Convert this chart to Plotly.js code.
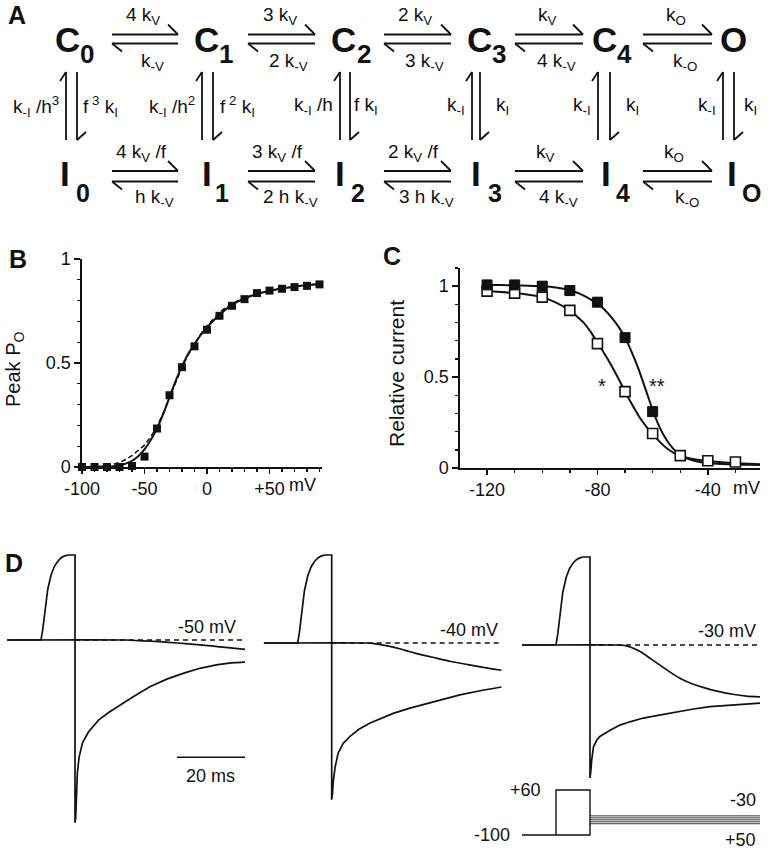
<!DOCTYPE html>
<html>
<head>
<meta charset="utf-8">
<script src="https://cdn.plot.ly/plotly-3.0.1.min.js"></script>
<style>
  html, body { margin: 0; padding: 0; background: #fff; }
  #fig { width: 773px; height: 853px; }
</style>
</head>
<body>
<div id="fig"></div>
<script>
// ---------- panel A: kinetic scheme ----------
var stateTop = ['C', 'C', 'C', 'C', 'C', 'O'];
var stateTopSub = ['0', '1', '2', '3', '4', ''];
var stateBot = ['I', 'I', 'I', 'I', 'I', 'I'];
var stateBotSub = ['0', '1', '2', '3', '4', 'O'];
var rateTopFwd = ['4 k<sub>V</sub>', '3 k<sub>V</sub>', '2 k<sub>V</sub>', 'k<sub>V</sub>', 'k<sub>O</sub>'];
var rateTopBack = ['k<sub>-V</sub>', '2 k<sub>-V</sub>', '3 k<sub>-V</sub>', '4 k<sub>-V</sub>', 'k<sub>-O</sub>'];
var rateBotFwd = ['4 k<sub>V</sub> /f', '3 k<sub>V</sub> /f', '2 k<sub>V</sub> /f', 'k<sub>V</sub>', 'k<sub>O</sub>'];
var rateBotBack = ['h k<sub>-V</sub>', '2 h k<sub>-V</sub>', '3 h k<sub>-V</sub>', '4 k<sub>-V</sub>', 'k<sub>-O</sub>'];
var rateRecover = ['k<sub>-I</sub> /h<sup>3</sup>', 'k<sub>-I</sub> /h<sup>2</sup>', 'k<sub>-I</sub> /h', 'k<sub>-I</sub>', 'k<sub>-I</sub>', 'k<sub>-I</sub>'];
var rateInact = ['f<sup> 3</sup> k<sub>I</sub>', 'f<sup> 2</sup> k<sub>I</sub>', 'f k<sub>I</sub>', 'k<sub>I</sub>', 'k<sub>I</sub>', 'k<sub>I</sub>'];

// ---------- panel B: peak Po vs voltage ----------
var bPtsV = [-100, -90, -80, -70, -60, -50, -40, -30, -20, -10, 0, 10, 20, 30, 40, 50, 60, 70, 80, 90];
var bPtsPo = [0, 0, 0, 0, 0.005, 0.05, 0.185, 0.345, 0.48, 0.58, 0.66, 0.727, 0.775, 0.807, 0.836, 0.848, 0.857, 0.865, 0.871, 0.878];
var bFitV = [-100, -95, -90, -85, -80, -75, -70, -65, -60, -55, -50, -45, -40, -35, -30, -25, -20, -15, -10, -5,
  0, 5, 10, 15, 20, 25, 30, 35, 40, 45, 50, 55, 60, 65, 70, 75, 80, 85, 90];
var bFitSolid = [0, 0, 0, 0.001, 0.002, 0.004, 0.008, 0.016, 0.03, 0.052, 0.085, 0.13, 0.185, 0.255, 0.335, 0.415, 0.485, 0.545, 0.59, 0.635,
  0.67, 0.703, 0.732, 0.758, 0.779, 0.796, 0.81, 0.822, 0.832, 0.84, 0.847, 0.853, 0.858, 0.863, 0.867, 0.871, 0.874, 0.877, 0.879];
var bFitDashed = [0, 0, 0.001, 0.003, 0.006, 0.012, 0.022, 0.036, 0.055, 0.078, 0.105, 0.145, 0.195, 0.26, 0.335, 0.41, 0.48, 0.54, 0.592, 0.64,
  0.678, 0.713, 0.743, 0.767, 0.786, 0.801, 0.813, 0.823, 0.832, 0.84, 0.847, 0.853, 0.858, 0.863, 0.867, 0.871, 0.874, 0.877, 0.879];

// ---------- panel C: steady-state inactivation ----------
var cPtsV = [-120, -110, -100, -90, -80, -70, -60, -50, -40, -30];
var cFilled = [1.007, 1.007, 1.0, 0.976, 0.912, 0.717, 0.31];
var cOpen = [0.973, 0.962, 0.94, 0.867, 0.684, 0.42, 0.19, 0.068, 0.04, 0.033];
var cFitV = [-120, -115, -110, -105, -100, -95, -90, -87.5, -85, -82.5, -80, -77.5, -75, -72.5, -70, -67.5, -65, -62.5, -60,
  -57.5, -55, -52.5, -50, -47.5, -45, -42.5, -40, -35, -30, -25, -21];
var cFitFilled = [1.007, 1.006, 1.005, 1.003, 1.0, 0.993, 0.978, 0.965, 0.948, 0.928, 0.905, 0.872, 0.83, 0.78, 0.717, 0.635, 0.54, 0.43, 0.32,
  0.225, 0.155, 0.105, 0.073, 0.052, 0.04, 0.032, 0.027, 0.022, 0.019, 0.018, 0.017];
var cFitOpen = [0.973, 0.968, 0.962, 0.953, 0.94, 0.91, 0.867, 0.835, 0.8, 0.75, 0.69, 0.63, 0.565, 0.495, 0.42, 0.35, 0.285, 0.232, 0.186,
  0.145, 0.11, 0.085, 0.068, 0.056, 0.048, 0.042, 0.038, 0.031, 0.027, 0.023, 0.021];

// ---------- panel D: simulated currents (ms, relative units) ----------
var riseT = [-10, 0, 0.5, 1, 1.5, 2, 3, 4, 5, 6, 7, 8, 10];
var riseI = [0, 0, 0.12, 0.3, 0.47, 0.6, 0.77, 0.87, 0.93, 0.97, 0.99, 1, 1];

var tail50T = [10, 10.2, 10.4, 10.7, 11.2, 12.2, 14, 17, 20, 23, 27, 32, 37, 42, 47, 52, 56, 60];
var tail50I = [-2.15, -2.1, -1.88, -1.56, -1.38, -1.21, -1.08, -0.94, -0.85, -0.77, -0.67, -0.55, -0.46, -0.39, -0.33, -0.29, -0.27, -0.26];
var step50T = [-10, 25, 30, 35, 40, 45, 50, 55, 60];
var step50I = [0, 0, -0.01, -0.02, -0.035, -0.052, -0.07, -0.09, -0.11];

var tail40T = [10, 10.2, 10.5, 11, 11.9, 13.4, 15.4, 18, 21.3, 25, 28.1, 33, 37.9, 43, 47.7, 54, 60];
var tail40I = [-1.78, -1.72, -1.56, -1.41, -1.25, -1.14, -1.06, -0.98, -0.91, -0.85, -0.8, -0.74, -0.69, -0.64, -0.59, -0.54, -0.5];
var step40T = [-10, 20, 23, 26, 30, 33, 35, 40, 45, 50, 55, 60];
var step40I = [0, 0, -0.01, -0.03, -0.065, -0.1, -0.12, -0.165, -0.21, -0.245, -0.28, -0.31];

var tail30T = [10, 10.2, 10.5, 11, 12, 12.9, 15.9, 18.8, 22, 25.7, 30, 35.5, 40, 45.3, 52, 60];
var tail30I = [-1.51, -1.45, -1.31, -1.16, -1.08, -1.04, -0.97, -0.91, -0.87, -0.83, -0.8, -0.76, -0.73, -0.7, -0.68, -0.66];
var step30T = [-10, 18, 20, 22, 25, 28, 31, 34, 37, 40, 44, 48, 52, 56, 60];
var step30I = [0, 0, -0.005, -0.025, -0.08, -0.16, -0.24, -0.32, -0.39, -0.44, -0.49, -0.53, -0.56, -0.58, -0.59];

var testLabels = ['-50 mV', '-40 mV', '-30 mV'];
var scaleBarT = [40, 60];
var scaleBarI = -1.38;

// voltage protocol (drawn levels, mV)
var protoT = [-10, 10, 10, 0, 0];
var protoV = [-100, -100, 60, 60, -100];
var testLevels = [-32, -39, -46, -53, -60];
var testT = [10, 60];

// ---------- layout helpers ----------
var W = 773, H = 853;
var INK = '#111';
var FONT = 'Liberation Sans, Arial, sans-serif';
function fx(p) { return p / W; }
function fy(p) { return 1 - p / H; }
function seg(x0, y0, x1, y1, w) {
  return { type: 'line', xref: 'paper', yref: 'paper', x0: fx(x0), y0: fy(y0), x1: fx(x1), y1: fy(y1),
    line: { color: INK, width: w || 1.8 } };
}
function ann(text, x, y, size, xa, extra) {
  var a = { text: text, xref: 'paper', yref: 'paper', x: fx(x), y: fy(y), showarrow: false,
    xanchor: xa || 'center', yanchor: 'middle', font: { family: FONT, size: size, color: INK } };
  for (var k in extra) { a[k] = extra[k]; }
  return a;
}

var shapes = [];
var annotations = [];

// panel letters
annotations.push(ann('<b>A</b>', 17, 15, 25));
annotations.push(ann('<b>B</b>', 18, 259, 25));
annotations.push(ann('<b>C</b>', 392, 256, 25));
annotations.push(ann('<b>D</b>', 14, 563, 25));

// states
var topLetterX = [67, 206, 343, 479, 604, 733.5];
var topSubX = [87, 226, 364, 499, 624];
var botLetterX = [65, 206.5, 340, 476, 606, 731.5];
var botSubX = [83, 222, 358, 495, 623, 751];
for (var i = 0; i < stateTop.length; i++) {
  annotations.push(ann('<b>' + stateTop[i] + '</b>', topLetterX[i], 39, 35));
  if (stateTopSub[i]) { annotations.push(ann('<b>' + stateTopSub[i] + '</b>', topSubX[i], 54, 26)); }
  annotations.push(ann('<b>' + stateBot[i] + '</b>', botLetterX[i], 174, 35));
  annotations.push(ann('<b>' + stateBotSub[i] + '</b>', botSubX[i], 193, 25));
}

// horizontal transitions
var hx0 = [112, 248, 384, 515, 643];
var hx1 = [178, 315, 451, 583, 712];
var rows = [
  { yt: 34.5, yb: 43.5, fwd: rateTopFwd, back: rateTopBack, fy: 16, by: 62, fdx: -2, bdx: 7 },
  { yt: 171, yb: 181.5, fwd: rateBotFwd, back: rateBotBack, fy: 153, by: 198, fdx: -4, bdx: 9 }
];
rows.forEach(function (r) {
  for (var i = 0; i < hx0.length; i++) {
    shapes.push(seg(hx0[i], r.yt, hx1[i], r.yt));
    shapes.push(seg(hx1[i], r.yt, hx1[i] - 10, r.yt - 10));
    shapes.push(seg(hx0[i], r.yb, hx1[i], r.yb));
    shapes.push(seg(hx0[i], r.yb, hx0[i] + 10, r.yb + 8));
    var mid = (hx0[i] + hx1[i]) / 2;
    annotations.push(ann(r.fwd[i], mid + r.fdx, r.fy, 19));
    annotations.push(ann(r.back[i], mid + r.bdx, r.by, 19));
  }
});

// vertical transitions
var vLeftX = [66, 202, 340, 472, 598, 723];
var vRightX = [77, 213, 350, 480, 610, 734];
var vRightLabelX = [81, 218, 352, 494, 624, 742];
for (var c = 0; c < vLeftX.length; c++) {
  shapes.push(seg(vLeftX[c], 72, vLeftX[c], 140));
  shapes.push(seg(vLeftX[c], 72, vLeftX[c] - 6, 81));
  shapes.push(seg(vRightX[c], 72, vRightX[c], 140));
  shapes.push(seg(vRightX[c], 140, vRightX[c] + 9, 132));
  annotations.push(ann(rateRecover[c], vLeftX[c] - 5, 106, 19, 'right'));
  annotations.push(ann(rateInact[c], vRightLabelX[c], 106, 19, 'left'));
}

// panel B / C text
annotations.push(ann('Peak P<sub>O</sub>', 15, 370, 20, 'center', { textangle: -90 }));
annotations.push(ann('mV', 302, 485, 18));
annotations.push(ann('Relative current', 396, 374, 21, 'center', { textangle: -90 }));
annotations.push(ann('mV', 746, 488, 18));
annotations.push({ text: '*', xref: 'x2', yref: 'y2', x: -78.3, y: 0.45, showarrow: false,
  font: { family: FONT, size: 20, color: INK } });
annotations.push({ text: '**', xref: 'x2', yref: 'y2', x: -58.4, y: 0.45, showarrow: false,
  font: { family: FONT, size: 20, color: INK } });

// panel D text
var labelRight = [238, 500, 758];
var labelY = [627, 630, 631];
for (var j = 0; j < testLabels.length; j++) {
  annotations.push(ann(testLabels[j], labelRight[j], labelY[j], 18, 'right'));
}
annotations.push(ann('20 ms', 211, 776, 18));
annotations.push(ann('+60', 543, 790, 18, 'right'));
annotations.push(ann('-100', 512, 835, 18, 'right'));
annotations.push(ann('-30', 758, 800, 18, 'right'));
annotations.push(ann('+50', 758, 840, 18, 'right'));

// ---------- traces ----------
var data = [];
data.push({ x: bFitV, y: bFitDashed, xaxis: 'x', yaxis: 'y', mode: 'lines', type: 'scatter',
  line: { color: INK, width: 1.5, dash: '5px,3px' }, hoverinfo: 'skip' });
data.push({ x: bFitV, y: bFitSolid, xaxis: 'x', yaxis: 'y', mode: 'lines', type: 'scatter',
  line: { color: INK, width: 2, shape: 'spline', smoothing: 0.6 }, hoverinfo: 'skip' });
data.push({ x: bPtsV, y: bPtsPo, xaxis: 'x', yaxis: 'y', mode: 'markers', type: 'scatter', cliponaxis: false,
  marker: { symbol: 'square', size: 8, color: INK } });

data.push({ x: cFitV, y: cFitOpen, xaxis: 'x2', yaxis: 'y2', mode: 'lines', type: 'scatter',
  line: { color: INK, width: 2, shape: 'spline', smoothing: 0.6 }, hoverinfo: 'skip' });
data.push({ x: cFitV, y: cFitFilled, xaxis: 'x2', yaxis: 'y2', mode: 'lines', type: 'scatter',
  line: { color: INK, width: 2, shape: 'spline', smoothing: 0.6 }, hoverinfo: 'skip' });
data.push({ x: cPtsV, y: cOpen, xaxis: 'x2', yaxis: 'y2', mode: 'markers', type: 'scatter', cliponaxis: false,
  marker: { symbol: 'square', size: 10, color: '#fff', line: { color: INK, width: 1.6 } } });
data.push({ x: cPtsV.slice(0, cFilled.length), y: cFilled, xaxis: 'x2', yaxis: 'y2', mode: 'markers', type: 'scatter',
  cliponaxis: false, marker: { symbol: 'square', size: 10, color: INK, line: { color: INK, width: 1 } } });

var dPanels = [
  { xa: 'x3', ya: 'y3', tailT: tail50T, tailI: tail50I, stepT: step50T, stepI: step50I },
  { xa: 'x4', ya: 'y4', tailT: tail40T, tailI: tail40I, stepT: step40T, stepI: step40I },
  { xa: 'x5', ya: 'y5', tailT: tail30T, tailI: tail30I, stepT: step30T, stepI: step30I }
];
dPanels.forEach(function (p) {
  data.push({ x: [10, 60], y: [0, 0], xaxis: p.xa, yaxis: p.ya, mode: 'lines', type: 'scatter',
    line: { color: INK, width: 1.5, dash: '5px,4px' }, hoverinfo: 'skip' });
  data.push({ x: p.stepT, y: p.stepI, xaxis: p.xa, yaxis: p.ya, mode: 'lines', type: 'scatter',
    line: { color: INK, width: 1.7, shape: 'spline', smoothing: 0.5 }, hoverinfo: 'skip' });
  data.push({ x: riseT.concat(p.tailT), y: riseI.concat(p.tailI), xaxis: p.xa, yaxis: p.ya, mode: 'lines', type: 'scatter',
    line: { color: INK, width: 1.7 }, hoverinfo: 'skip' });
});
data.push({ x: scaleBarT, y: [scaleBarI, scaleBarI], xaxis: 'x3', yaxis: 'y3', mode: 'lines', type: 'scatter',
  line: { color: INK, width: 1.6 }, hoverinfo: 'skip' });

data.push({ x: protoT, y: protoV, xaxis: 'x5', yaxis: 'y6', mode: 'lines', type: 'scatter',
  line: { color: INK, width: 1.4 }, hoverinfo: 'skip' });
testLevels.forEach(function (v) {
  data.push({ x: testT, y: [v, v], xaxis: 'x5', yaxis: 'y6', mode: 'lines', type: 'scatter',
    line: { color: '#333', width: 1 }, hoverinfo: 'skip' });
});

// ---------- axes ----------
var tickFont = { family: FONT, size: 18, color: INK };
function plotAxis(extra) {
  var a = { showgrid: false, zeroline: false, showline: true, linecolor: INK, linewidth: 1.6,
    ticks: 'outside', tickcolor: INK, tickwidth: 1.4, ticklen: 6, tickfont: tickFont, tickmode: 'array' };
  for (var k in extra) { a[k] = extra[k]; }
  return a;
}
function hidden(extra) {
  var a = { visible: false, showgrid: false, zeroline: false, fixedrange: true };
  for (var k in extra) { a[k] = extra[k]; }
  return a;
}

var layout = {
  width: W, height: H,
  margin: { l: 0, r: 0, t: 0, b: 0 },
  paper_bgcolor: '#fff', plot_bgcolor: 'rgba(0,0,0,0)',
  showlegend: false,
  font: { family: FONT, color: INK },
  xaxis: plotAxis({ domain: [fx(82), fx(322)], range: [-100, 92], anchor: 'y',
    tickvals: [-100, -50, 0, 50], ticktext: ['-100', '-50', '0', '+50'], ticklen: 5,
    minor: { tickmode: 'linear', tick0: -100, dtick: 10, ticks: 'outside', ticklen: 3, tickcolor: INK } }),
  yaxis: plotAxis({ domain: [fy(467), fy(259)], range: [0, 1], anchor: 'x',
    tickvals: [0, 0.5, 1], ticktext: ['0', '0.5', '1'],
    minor: { tickmode: 'linear', tick0: 0, dtick: 0.1, ticks: 'outside', ticklen: 3, tickcolor: INK } }),
  xaxis2: plotAxis({ domain: [fx(460), fx(760)], range: [-129.8, -21.1], anchor: 'y2',
    tickvals: [-120, -80, -40], ticktext: ['-120', '-80', '-40'], ticklen: 5,
    minor: { tickmode: 'linear', tick0: -120, dtick: 10, ticks: 'outside', ticklen: 3, tickcolor: INK } }),
  yaxis2: plotAxis({ domain: [fy(468), fy(268)], range: [0, 1.1], anchor: 'x2',
    tickvals: [0, 0.5, 1], ticktext: ['0', '0.5', '1'],
    minor: { tickmode: 'linear', tick0: 0, dtick: 0.1, ticks: 'outside', ticklen: 3, tickcolor: INK } }),
  xaxis3: hidden({ domain: [fx(7), fx(245)], range: [-10, 60], anchor: 'y3' }),
  yaxis3: hidden({ domain: [fy(835.5), fy(546.5)], range: [-2.3, 1.1], anchor: 'x3' }),
  xaxis4: hidden({ domain: [fx(263.7), fx(501.7)], range: [-10, 60], anchor: 'y4' }),
  yaxis4: hidden({ domain: [fy(845.4), fy(546.2)], range: [-2.3, 1.1], anchor: 'x4' }),
  xaxis5: hidden({ domain: [fx(522), fx(760)], range: [-10, 60], anchor: 'y5' }),
  yaxis5: hidden({ domain: [fy(847.4), fy(548.2)], range: [-2.3, 1.1], anchor: 'x5' }),
  yaxis6: hidden({ domain: [fy(837.8), fy(787.2)], range: [-110, 70], anchor: 'x5' }),
  shapes: shapes,
  annotations: annotations
};

Plotly.newPlot('fig', data, layout, { staticPlot: true });
</script>
</body>
</html>
